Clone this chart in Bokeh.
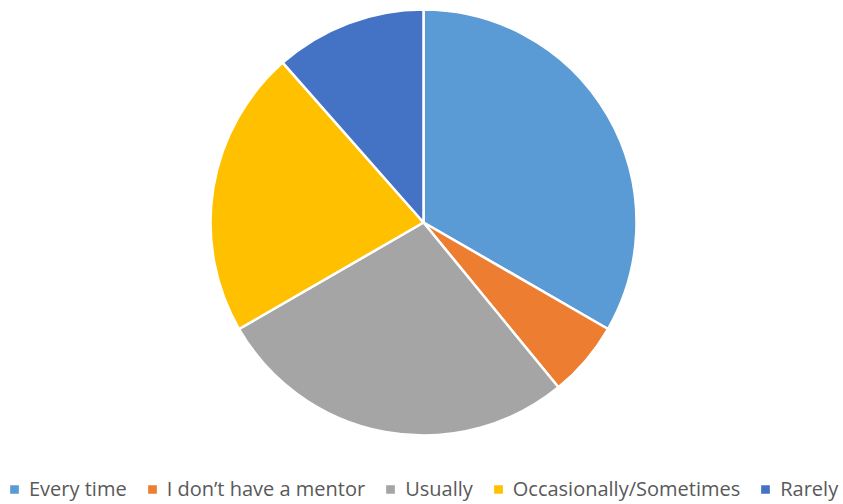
from bokeh.plotting import figure
from bokeh.models import Range1d, Legend, LegendItem, ColumnDataSource
from bokeh.embed import file_html
from bokeh.resources import INLINE
import numpy as np

categories = ["Every time", "I don\u2019t have a mentor", "Usually", "Occasionally/Sometimes", "Rarely"]
counts = [29, 5, 24, 19, 10]
colors = ["#5B9BD5", "#ED7D31", "#A5A5A5", "#FFC000", "#4472C4"]

W, H = 843, 504
frac = np.array(counts) / sum(counts)
ends = np.cumsum(frac) * 2 * np.pi
starts = np.concatenate([[0], ends[:-1]])
src = ColumnDataSource(dict(
    start=np.pi / 2 - starts,
    end=np.pi / 2 - ends,
    color=colors,
    cat=categories,
))

p = figure(width=W, height=H, output_backend="svg", toolbar_location=None,
           x_range=Range1d(0, W), y_range=Range1d(0, H), min_border=0)
p.axis.visible = False
p.grid.visible = False
p.outline_line_color = None

cx, cy, r = 423, 282, 213
wr = p.wedge(x=cx, y=cy, radius=r, start_angle="start", end_angle="end", direction="clock",
             fill_color="color", line_color="white", line_width=2.5, source=src)

items = [LegendItem(label=c, renderers=[wr], index=i) for i, c in enumerate(categories)]
legend = Legend(items=items, orientation="horizontal", location=(7, 2),
                label_text_font="Open Sans", label_text_font_size="20px",
                label_text_color="#595959", glyph_width=14, glyph_height=14,
                label_standoff=8, spacing=18, padding=0, margin=0,
                border_line_alpha=0, background_fill_alpha=0)
p.add_layout(legend, "center")

open("out.html", "w").write(file_html(p, INLINE))
